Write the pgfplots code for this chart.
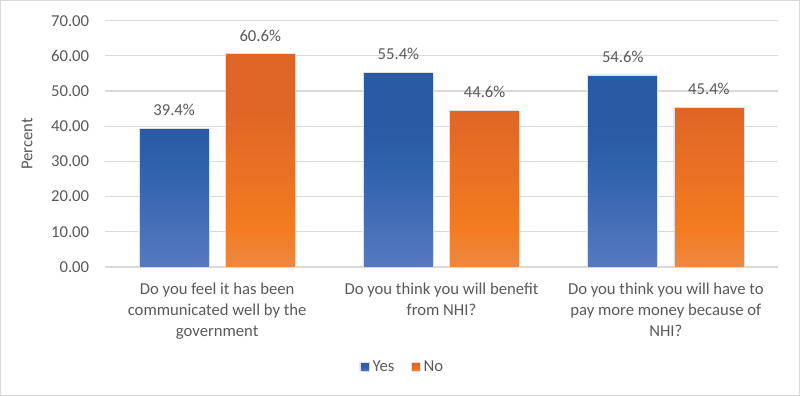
\documentclass[border=0pt]{standalone}
\usepackage{fontspec}
\setmainfont{Carlito}
\usepackage{pgfplots}
\pgfplotsset{compat=1.18}
\definecolor{txt}{HTML}{595959}
\definecolor{gridc}{HTML}{D9D9D9}
\definecolor{bTop}{HTML}{2A59A6}
\definecolor{bMid}{HTML}{3062AE}
\definecolor{bBot}{HTML}{5679BF}
\definecolor{oTop}{HTML}{DF6526}
\definecolor{oMid}{HTML}{F37B20}
\definecolor{oBot}{HTML}{EF8842}
\definecolor{bLeg}{HTML}{2E5EAA}
\definecolor{oLeg}{HTML}{E8702A}
\pgfdeclareverticalshading{blueBar}{100bp}{color(0bp)=(bBot); color(25bp)=(bBot); color(50bp)=(bMid); color(62bp)=(bTop); color(100bp)=(bTop)}
\pgfdeclareverticalshading{orangeBar}{100bp}{color(0bp)=(oBot); color(25bp)=(oBot); color(34bp)=(oMid); color(50bp)=(oMid!45!oTop); color(62bp)=(oTop); color(100bp)=(oTop)}
\begin{document}
\begin{tikzpicture}[x=1pt,y=1pt]
\path[use as bounding box] (0,0) rectangle (480,237.6);
\draw[color=gridc, line width=0.8pt] (0.4,0.4) rectangle (479.6,237.2);
\begin{axis}[
  at={(63pt,77.4pt)}, anchor=south west, scale only axis,
  width=403.8pt, height=147.8pt,
  ybar=9.7pt, bar width=42pt,
  xmin=-0.5, xmax=2.5, ymin=0, ymax=70,
  /pgf/number format/assume math mode=true,
  ytick={0,10,20,30,40,50,60,70},
  yticklabels={0.00,10.00,20.00,30.00,40.00,50.00,60.00,70.00},
  xtick={0,1,2},
  xticklabels={{Do you feel it has been\\communicated well by the\\government},
               {Do you think you will benefit\\from NHI?},
               {Do you think you will have to\\pay more money because of\\NHI?}},
  xticklabel style={align=center, font=\fontsize{10}{12.6}\selectfont, text=txt, yshift=-5.8pt},
  yticklabel style={font=\fontsize{10}{12}\selectfont, text=txt, xshift=-6pt},
  major tick length=0pt,
  axis line style={draw=none},
  ymajorgrids, grid style={color=gridc, line width=0.75pt},
  ylabel={Percent},
  every axis y label/.style={at={(axis description cs:-0.1159,0.5)}, rotate=90, anchor=center, font=\fontsize{10}{12}\selectfont, text=txt},
  nodes near coords={\pgfmathprintnumber[fixed,fixed zerofill,precision=1,assume math mode=true]{\pgfplotspointmeta}\%},
  every node near coord/.append style={font=\fontsize{10}{12}\selectfont, text=txt, yshift=4pt},
  legend style={at={(0.443,-0.4066)}, anchor=center, draw=none, fill=none,
    legend columns=2, font=\fontsize{10}{12}\selectfont, text=txt,
    /tikz/every even column/.append style={column sep=7.8pt}},
  legend image code/.code={\fill[#1] (0pt,-2.7pt) rectangle (5.4pt,2.7pt);},
]
\addplot[shading=blueBar, draw=black!12, line width=0.4pt]
  coordinates {(0,39.4) (1,55.4) (2,54.6)};
\addplot[shading=orangeBar, draw=black!12, line width=0.4pt]
  coordinates {(0,60.6) (1,44.6) (2,45.4)};
\legend{}
\addlegendimage{fill=bLeg}
\addlegendentry{Yes}
\addlegendimage{fill=oLeg}
\addlegendentry{No}
\end{axis}
\end{tikzpicture}
\end{document}
